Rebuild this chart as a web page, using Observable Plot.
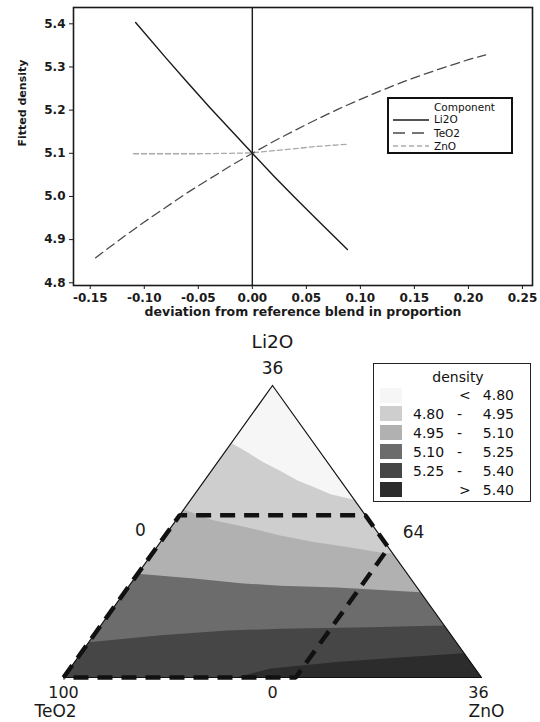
<!DOCTYPE html>
<html><head><meta charset="utf-8">
<script src="https://cdn.jsdelivr.net/npm/d3@7"></script>
<script src="https://cdn.jsdelivr.net/npm/@observablehq/plot@0.6"></script>
<style>
body{margin:0;background:#fff;}
#wrap{position:relative;width:540px;height:722px;overflow:hidden;font-family:"DejaVu Sans",Verdana,sans-serif;background:#fff;}
#wrap > svg{display:block;}
.lg{position:absolute;box-sizing:border-box;background:#fff;color:#111;}
.lg .t{position:absolute;white-space:nowrap;line-height:1;}
</style></head><body><div id="wrap"></div>
<script>
// ---------- Top chart data (Cox response trace) ----------
const components = ["Li2O", "TeO2", "ZnO"];
const li2oDev = [-0.108, -0.08, -0.06, -0.04, -0.02, 0, 0.02, 0.04, 0.06, 0.088];
const li2oFit = [5.403, 5.321, 5.264, 5.208, 5.154, 5.100, 5.047, 4.996, 4.946, 4.877];
const teo2Dev = [-0.145, -0.12, -0.10, -0.08, -0.06, -0.04, -0.02, 0, 0.02, 0.04, 0.06, 0.08, 0.10, 0.12, 0.14, 0.16, 0.18, 0.20, 0.216];
const teo2Fit = [4.858, 4.905, 4.941, 4.975, 5.009, 5.040, 5.071, 5.100, 5.128, 5.154, 5.179, 5.203, 5.225, 5.246, 5.266, 5.284, 5.301, 5.317, 5.328];
const znoDev = [-0.11, -0.08, -0.05, -0.02, 0, 0.02, 0.04, 0.06, 0.088];
const znoFit = [5.099, 5.099, 5.099, 5.100, 5.101, 5.106, 5.111, 5.116, 5.121];
const xTicks = [-0.15, -0.10, -0.05, 0, 0.05, 0.10, 0.15, 0.20, 0.25];
const yTicks = [4.8, 4.9, 5.0, 5.1, 5.2, 5.3, 5.4];
const refDeviation = [0];
const xLabel = "deviation from reference blend in proportion";
const yLabel = "Fitted density";
const legendTitle = "Component";

// ---------- Ternary contour data (Li2O %, ZnO %; TeO2 = 100 - Li2O - ZnO) ----------
const vertexNames = ["Li2O", "TeO2", "ZnO"];
const vertexMax = ["36", "100", "36"];
const sideMin = ["0", "64", "0"];
const b1Li2O = [28.9, 27.8, 26.5, 25.5, 24.3, 23.5, 22.6, 21.9];
const b1ZnO  = [0, 1.9, 4.0, 5.9, 8.0, 9.8, 11.7, 14.1];
const b2Li2O = [20.7, 19.4, 18.5, 17.5, 16.7, 16.1, 15.4, 15.3];
const b2ZnO  = [0, 3.2, 6.6, 9.9, 13.2, 16.4, 19.6, 20.7];
const b3Li2O = [12.8, 12.2, 11.6, 11.3, 11.1, 10.5];
const b3ZnO  = [0, 5.1, 9.7, 13.0, 18.0, 25.5];
const b4Li2O = [4.35, 5.2, 5.8, 6.0, 6.2, 6.4];
const b4ZnO  = [0, 5.8, 11.2, 15.7, 23.3, 29.6];
const b5Li2O = [0, 0.5, 1.1, 1.9, 2.5, 3.0];
const b5ZnO  = [14.8, 15.9, 17.3, 22.6, 28.0, 33.0];
const regionLi2O = [0, 20, 20, 16, 0, 0];
const regionZnO  = [0, 0, 16, 20, 20, 0];
const densityTitle = "density";
const densityCuts = [4.80, 4.95, 5.10, 5.25, 5.40];
const bandColors = ["#f6f6f6", "#cecece", "#b1b1b1", "#6c6c6c", "#464646", "#2c2c2c"];

// ---------- Build tables ----------
const zip = (xs, ys, name) => xs.map((x, i) => ({x, y: ys[i], c: name}));
const li2o = zip(li2oDev, li2oFit, components[0]);
const teo2 = zip(teo2Dev, teo2Fit, components[1]);
const zno = zip(znoDev, znoFit, components[2]);
const styles = {
  Li2O: {stroke: "#1a1a1a", strokeWidth: 1.4, strokeDasharray: null},
  TeO2: {stroke: "#4a4a4a", strokeWidth: 1.3, strokeDasharray: "9,5"},
  ZnO:  {stroke: "#a9a9a9", strokeWidth: 1.3, strokeDasharray: "5,3"}
};

const wrap = document.getElementById("wrap");

const topChart = Plot.plot({
  width: 540, height: 325,
  marginLeft: 73, marginRight: 8, marginTop: 7, marginBottom: 40,
  style: {fontFamily: "DejaVu Sans, Verdana, sans-serif", fontSize: "12px", fontWeight: "bold", color: "#1a1a1a", background: "#fff"},
  x: {domain: [-0.1655, 0.2593], ticks: xTicks, tickFormat: d => d.toFixed(2), tickSize: 4, tickPadding: 4, label: null},
  y: {domain: [4.7937, 5.4378], ticks: yTicks, tickFormat: d => d.toFixed(1), tickSize: 4, tickPadding: 4, label: null},
  marks: [
    Plot.frame({stroke: "#1a1a1a", strokeWidth: 1.6}),
    Plot.ruleX(refDeviation, {stroke: "#1a1a1a", strokeWidth: 1.4}),
    Plot.line(zno, {x: "x", y: "y", ...styles.ZnO, curve: "linear"}),
    Plot.line(teo2, {x: "x", y: "y", ...styles.TeO2, curve: "linear"}),
    Plot.line(li2o, {x: "x", y: "y", ...styles.Li2O, curve: "linear"}),
    Plot.text([xLabel], {text: d => d, frameAnchor: "bottom", dy: 30, fontSize: 12.5, fontWeight: "bold"}),
    Plot.text([yLabel], {text: d => d, frameAnchor: "left", dx: -51, rotate: -90, fontSize: 11, fontWeight: "bold"})
  ]
});
wrap.appendChild(topChart);

// ternary projection: pseudo-components l = Li2O/36, z = ZnO/36
const tern = (L, Z) => ({x: Z / 36 + L / 72, y: L / 36});
const V = {Li2O: tern(36, 0), TeO2: tern(0, 0), ZnO: tern(0, 36)};
const boundary = (Ls, Zs) => Ls.map((L, i) => tern(L, Zs[i]));
const triangle = [V.Li2O, V.TeO2, V.ZnO, V.Li2O];
const bands = [
  {pts: triangle, color: bandColors[0]},
  {pts: [...boundary(b1Li2O, b1ZnO), V.ZnO, V.TeO2], color: bandColors[1]},
  {pts: [...boundary(b2Li2O, b2ZnO), V.ZnO, V.TeO2], color: bandColors[2]},
  {pts: [...boundary(b3Li2O, b3ZnO), V.ZnO, V.TeO2], color: bandColors[3]},
  {pts: [...boundary(b4Li2O, b4ZnO), V.ZnO, V.TeO2], color: bandColors[4]},
  {pts: [...boundary(b5Li2O, b5ZnO), V.ZnO], color: bandColors[5]}
];
const region = boundary(regionLi2O, regionZnO);

const labelSpecs = [
  {p: V.Li2O, text: vertexNames[0], dx: 0, dy: -43, size: 18.5},
  {p: V.Li2O, text: vertexMax[0], dx: 0, dy: -17, size: 17},
  {p: V.TeO2, text: vertexMax[1], dx: 0, dy: 15, size: 16},
  {p: V.TeO2, text: vertexNames[1], dx: -8, dy: 34, size: 17},
  {p: V.ZnO, text: vertexMax[2], dx: -3, dy: 15, size: 16},
  {p: V.ZnO, text: vertexNames[2], dx: 5, dy: 34, size: 17},
  {p: tern(0, 18), text: sideMin[0], dx: 0, dy: 15, size: 16},
  {p: tern(18, 18), text: sideMin[1], dx: 36.5, dy: 1, size: 17},
  {p: tern(18, 0), text: sideMin[2], dx: -27.5, dy: -1, size: 17}
];

const bottomChart = Plot.plot({
  width: 540, height: 397,
  marginLeft: 63, marginRight: 59, marginTop: 60, marginBottom: 45,
  style: {fontFamily: "DejaVu Sans, Verdana, sans-serif", color: "#1a1a1a", background: "#fff"},
  x: {domain: [0, 1], axis: null},
  y: {domain: [0, 1], axis: null},
  marks: [
    ...bands.map(b => Plot.line(b.pts, {x: "x", y: "y", fill: b.color, stroke: "none", curve: "linear"})),
    Plot.line(triangle, {x: "x", y: "y", stroke: "#111", strokeWidth: 1.2, curve: "linear"}),
    Plot.line(region, {x: "x", y: "y", stroke: "#111", strokeWidth: 4.5, strokeDasharray: "15,9", strokeLinecap: "butt", strokeLinejoin: "miter", curve: "linear"}),
    ...labelSpecs.map(s => Plot.text([s], {x: d => d.p.x, y: d => d.p.y, text: d => d.text, dx: s.dx, dy: s.dy, fontSize: s.size, fill: "#1a1a1a"}))
  ]
});
wrap.appendChild(bottomChart);

// ---------- Legends ----------
function el(tag, cls, css, parent, html) {
  const e = document.createElement(tag);
  if (cls) e.className = cls;
  Object.assign(e.style, css);
  if (html != null) e.textContent = html;
  parent.appendChild(e);
  return e;
}
// Component legend (top chart)
const lg1 = el("div", "lg", {left: "387px", top: "97px", width: "126px", height: "57px", border: "2px solid #111", fontSize: "10.5px"}, wrap);
el("div", "t", {left: "45px", top: "2.5px"}, lg1, legendTitle);
components.forEach((c, i) => {
  const y = [20.5, 34, 47][i];
  const s = styles[c];
  const svg = document.createElementNS("http://www.w3.org/2000/svg", "svg");
  svg.setAttribute("width", "40"); svg.setAttribute("height", "6");
  Object.assign(svg.style, {position: "absolute", left: "4px", top: (y - 3) + "px"});
  const ln = document.createElementNS("http://www.w3.org/2000/svg", "line");
  ln.setAttribute("x1", "0"); ln.setAttribute("x2", "36"); ln.setAttribute("y1", "3"); ln.setAttribute("y2", "3");
  ln.setAttribute("stroke", s.stroke); ln.setAttribute("stroke-width", s.strokeWidth);
  if (s.strokeDasharray) ln.setAttribute("stroke-dasharray", c === "TeO2" ? "12,7" : "5,3");
  svg.appendChild(ln); lg1.appendChild(svg);
  el("div", "t", {left: "45px", top: (y - 5.5) + "px"}, lg1, c);
});

// density legend (ternary)
const lg2 = el("div", "lg", {left: "373px", top: "363px", width: "158px", height: "139px", border: "1.5px solid #222", fontSize: "14px"}, wrap);
el("div", "t", {left: "0", width: "100%", textAlign: "center", top: "6px", paddingLeft: "12px", boxSizing: "border-box"}, lg2, densityTitle);
const f2 = d => d.toFixed(2);
bandColors.forEach((col, i) => {
  const cy = 31 + i * 18.9;
  el("div", null, {position: "absolute", left: "6px", top: (cy - 7.5) + "px", width: "22px", height: "15px", background: col}, lg2);
  if (i === 0) {
    el("div", "t", {left: "85px", top: (cy - 7) + "px"}, lg2, "<");
    el("div", "t", {right: "16px", top: (cy - 7) + "px"}, lg2, f2(densityCuts[0]));
  } else if (i === bandColors.length - 1) {
    el("div", "t", {left: "85px", top: (cy - 7) + "px"}, lg2, ">");
    el("div", "t", {right: "16px", top: (cy - 7) + "px"}, lg2, f2(densityCuts[densityCuts.length - 1]));
  } else {
    el("div", "t", {left: "39px", top: (cy - 7) + "px"}, lg2, f2(densityCuts[i - 1]));
    el("div", "t", {left: "83px", top: (cy - 7) + "px"}, lg2, "-");
    el("div", "t", {right: "16px", top: (cy - 7) + "px"}, lg2, f2(densityCuts[i]));
  }
});
</script>
</body></html>
